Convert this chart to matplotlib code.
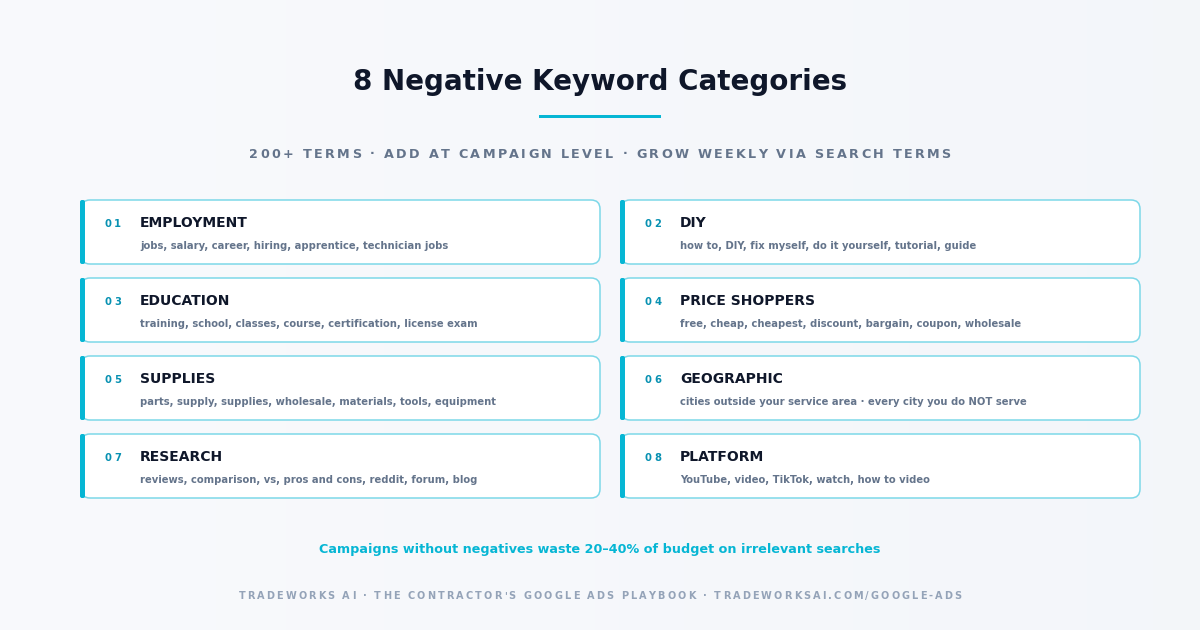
import matplotlib
matplotlib.use("Agg")
import matplotlib.pyplot as plt
from matplotlib.patches import FancyBboxPatch, Rectangle
from matplotlib.font_manager import FontProperties
import numpy as np

title = "8 Negative Keyword Categories"
subtitle = "200+ TERMS · ADD AT CAMPAIGN LEVEL · GROW WEEKLY VIA SEARCH TERMS"
numbers = ["01", "02", "03", "04", "05", "06", "07", "08"]
names = ["EMPLOYMENT", "DIY", "EDUCATION", "PRICE SHOPPERS",
         "SUPPLIES", "GEOGRAPHIC", "RESEARCH", "PLATFORM"]
terms = [
    "jobs, salary, career, hiring, apprentice, technician jobs",
    "how to, DIY, fix myself, do it yourself, tutorial, guide",
    "training, school, classes, course, certification, license exam",
    "free, cheap, cheapest, discount, bargain, coupon, wholesale",
    "parts, supply, supplies, wholesale, materials, tools, equipment",
    "cities outside your service area · every city you do NOT serve",
    "reviews, comparison, vs, pros and cons, reddit, forum, blog",
    "YouTube, video, TikTok, watch, how to video",
]
note = "Campaigns without negatives waste 20–40% of budget on irrelevant searches"
footer = "TRADEWORKS AI · THE CONTRACTOR'S GOOGLE ADS PLAYBOOK · TRADEWORKSAI.COM/GOOGLE-ADS"

CYAN = "#06b6d4"
DARK = "#0f172a"
GRAY = "#64748b"

fig = plt.figure(figsize=(12, 6.3), dpi=100)
ax = fig.add_axes([0, 0, 1, 1])
ax.set_xlim(0, 1200)
ax.set_ylim(630, 0)
ax.axis("off")
# soft background gradient
grad = np.linspace(0, 1, 256).reshape(1, -1)
ax.imshow(np.dstack([np.ones((1, 256)) * 0.975 - grad * 0.02,
                     np.ones((1, 256)) * 0.98 - grad * 0.015,
                     np.ones((1, 256)) * 0.99 - grad * 0.01]),
          extent=[0, 1200, 630, 0], aspect="auto", zorder=0)

renderer = fig.canvas.get_renderer()


def spaced(x, y, s, size, color, spacing):
    prop = FontProperties(family="DejaVu Sans", weight="bold", size=size)
    widths = []
    for ch in s:
        w, h, d = renderer.get_text_width_height_descent(ch if ch != " " else "a a", prop, ismath=False)
        if ch == " ":
            w2, _, _ = renderer.get_text_width_height_descent("aa", prop, ismath=False)
            w = w - w2
        widths.append(w + spacing)
    total = sum(widths) - spacing
    cx = x - total / 2
    for ch, w in zip(s, widths):
        ax.text(cx, y, ch, fontproperties=prop, color=color, ha="left", va="center")
        cx += w


ax.text(600, 82, title, ha="center", va="center", fontsize=20, fontweight="bold", color=DARK)
ax.add_patch(Rectangle((539, 114.5), 122, 3, color=CYAN, lw=0))
spaced(600, 154, subtitle, 9.2, GRAY, 2.3)

for i in range(len(names)):
    col, row = i % 2, i // 2
    x0 = 80 + col * 540
    y0 = 200 + row * 78
    ax.add_patch(FancyBboxPatch((x0 + 1, y0), 519, 64, boxstyle="round,pad=0,rounding_size=9",
                                fc="white", ec="#7dd8e8", lw=1.1, zorder=2))
    ax.add_patch(FancyBboxPatch((x0, y0), 5, 64, boxstyle="round,pad=0,rounding_size=2",
                                fc=CYAN, ec="none", zorder=3))
    spaced(x0 + 33, y0 + 24, numbers[i], 7.2, "#0891b2", 2.5)
    ax.text(x0 + 60, y0 + 23, names[i], fontsize=10, fontweight="bold", color=DARK,
            va="center", zorder=4)
    ax.text(x0 + 60, y0 + 46, terms[i], fontsize=7.2, fontweight="bold", color=GRAY,
            va="center", zorder=4)

ax.text(600, 550, note, ha="center", va="center", fontsize=9.2, fontweight="bold", color=CYAN)
spaced(600, 596, footer, 7, "#94a3b8", 2.1)

fig.savefig("out.png", dpi=100)
